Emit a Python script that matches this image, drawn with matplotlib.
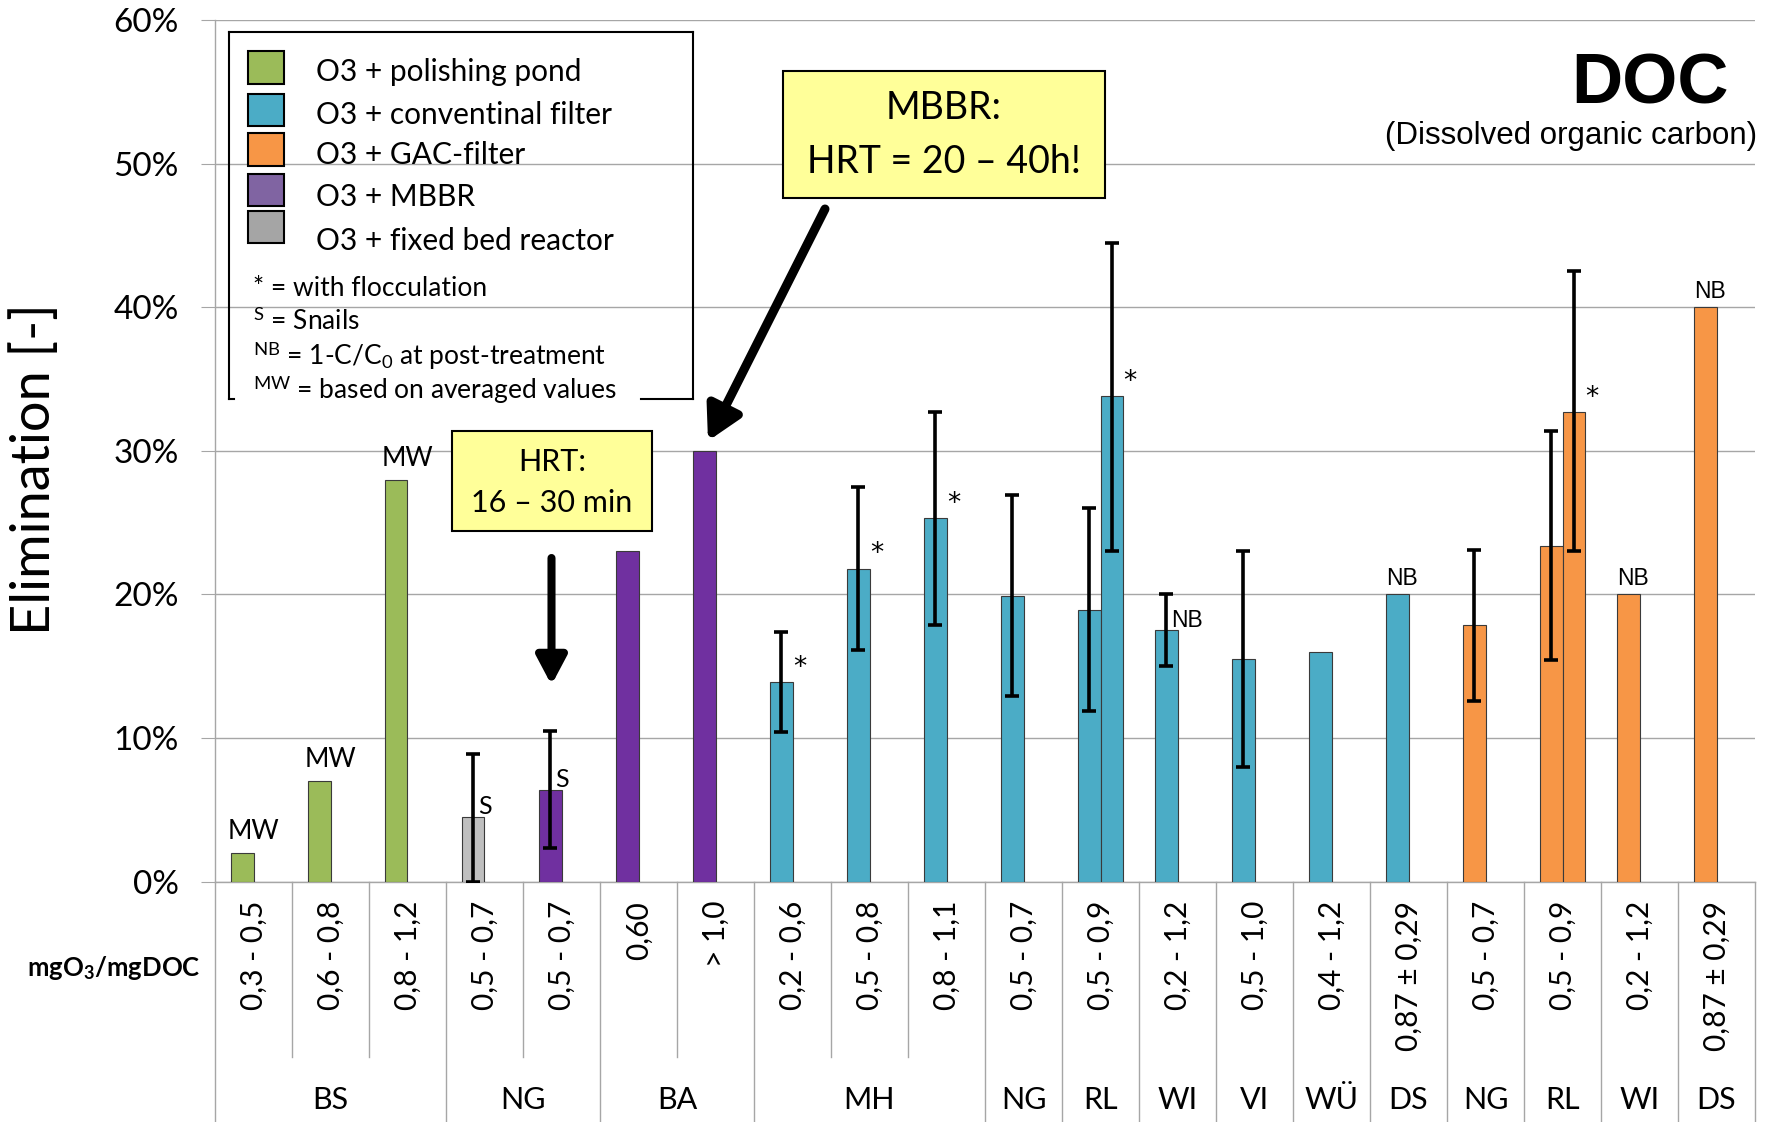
import matplotlib
matplotlib.use('Agg')
import matplotlib.pyplot as plt
import numpy as np
from matplotlib.patches import Rectangle
from matplotlib.lines import Line2D

plt.rcParams['font.family'] = ['Lato', 'DejaVu Sans']
plt.rcParams['mathtext.fontset'] = 'custom'
plt.rcParams['mathtext.rm'] = 'Lato'
plt.rcParams['mathtext.it'] = 'Lato:italic'
plt.rcParams['mathtext.bf'] = 'Lato:bold'

# data (elimination in %)
ratios = ['0,3 - 0,5', '0,6 - 0,8', '0,8 - 1,2', '0,5 - 0,7', '0,5 - 0,7', '0,60', '> 1,0',
          '0,2 - 0,6', '0,5 - 0,8', '0,8 - 1,1', '0,5 - 0,7', '0,5 - 0,9', '0,2 - 1,2',
          '0,5 - 1,0', '0,4 - 1,2', '0,87 ± 0,29', '0,5 - 0,7', '0,5 - 0,9', '0,2 - 1,2',
          '0,87 ± 0,29']
groups = ['BS', 'NG', 'BA', 'MH', 'NG', 'RL', 'WI', 'VI', 'WÜ', 'DS', 'NG', 'RL', 'WI', 'DS']
group_sizes = [3, 2, 2, 3, 1, 1, 1, 1, 1, 1, 1, 1, 1, 1]
process = ['pond', 'pond', 'pond', 'fixed', 'mbbr', 'mbbr', 'mbbr',
           'filter', 'filter', 'filter', 'filter', 'filter', 'filter', 'filter', 'filter', 'filter',
           'gac', 'gac', 'gac', 'gac']
elim = [2.0, 7.0, 28.0, 4.5, 6.4, 23.0, 30.0, 13.9, 21.8, 25.3, 19.9, 18.9, 17.5, 15.5, 16.0,
        20.0, 17.9, 23.4, 20.0, 40.0]
nan = np.nan
err_lo = [nan, nan, nan, 0.0, 2.3, nan, nan, 10.45, 16.1, 17.9, 12.9, 11.9, 15.0, 8.0, nan,
          nan, 12.6, 15.4, nan, nan]
err_hi = [nan, nan, nan, 8.9, 10.5, nan, nan, 17.4, 27.5, 32.7, 26.9, 26.0, 20.0, 23.0, nan,
          nan, 23.1, 31.4, nan, nan]
marks = ['MW', 'MW', 'MW', 'S', 'S', '', '', '*', '*', '*', '', '', 'NB', '', '', 'NB', '', '', 'NB', 'NB']

# second bar (with flocculation) in the RL categories
second_idx = [11, 17]
elim2 = [33.8, 32.7]
err2_lo = [23.0, 23.0]
err2_hi = [44.5, 42.5]
marks2 = ['*', '*']

legend_labels = ['O3 + polishing pond', 'O3 + conventinal filter', 'O3 + GAC-filter',
                 'O3 + MBBR', 'O3 + fixed bed reactor']
legend_keys = ['pond', 'filter', 'gac', 'mbbr', 'fixed']

bar_colors = {'pond': '#9BBB59', 'filter': '#4BACC6', 'gac': '#F79646',
              'mbbr': '#7030A0', 'fixed': '#BFBFBF'}
legend_colors = {'pond': '#9BBB59', 'filter': '#4BACC6', 'gac': '#F79646',
                 'mbbr': '#8064A2', 'fixed': '#A5A5A5'}

W, H = 1772, 1122
fig = plt.figure(figsize=(W / 100, H / 100), dpi=100)


def P(px, py):
    return (px / W, 1 - py / H)


ax = fig.add_axes([215 / W, 1 - 881.5 / H, 1540 / W, 861.2 / H])
x = np.arange(len(ratios))
w = 0.29
elim = np.array(elim)
lo = np.array(err_lo)
hi = np.array(err_hi)

xa = x - w / 2
ax.bar(xa, elim, w, color=[bar_colors[p] for p in process], edgecolor='#3a3a3a',
       linewidth=0.8, zorder=3)
m = ~np.isnan(lo)
ax.errorbar(xa[m], elim[m], yerr=[elim[m] - lo[m], hi[m] - elim[m]], fmt='none',
            ecolor='black', elinewidth=2.6, capsize=5, capthick=2.6, zorder=4)

xb = np.array(second_idx) + w / 2
e2 = np.array(elim2)
ax.bar(xb, e2, w, color=[bar_colors[process[i]] for i in second_idx], edgecolor='#3a3a3a',
       linewidth=0.8, zorder=3)
ax.errorbar(xb, e2, yerr=[e2 - np.array(err2_lo), np.array(err2_hi) - e2], fmt='none',
            ecolor='black', elinewidth=2.6, capsize=5, capthick=2.6, zorder=4)


def put_mark(xc, val, has_err, txt):
    if not txt:
        return
    if txt == '*':
        ax.text(xc + w / 2 + 0.01, val + 0.1, '*', ha='left', va='bottom', fontsize=19,
                family='DejaVu Sans', zorder=6)
    elif has_err:
        ax.text(xc + 0.06, val - 0.1, txt, ha='left', va='bottom', zorder=6,
                fontsize=18 if txt == 'S' else 16.5,
                family='Lato' if txt == 'S' else 'Liberation Sans')
    elif txt == 'MW':
        ax.text(xc + 0.15, val + 0.6, txt, ha='center', va='bottom', fontsize=19, zorder=6)
    else:
        ax.text(xc + 0.06, val + 0.3, txt, ha='center', va='bottom', fontsize=16.5,
                family='Liberation Sans', zorder=6)


for i in range(len(ratios)):
    put_mark(xa[i], elim[i], not np.isnan(lo[i]), marks[i])
for j, i in enumerate(second_idx):
    put_mark(xb[j], elim2[j], True, marks2[j])

ax.set_xlim(-0.5, 19.5)
ax.set_ylim(0, 60)
ax.set_yticks(range(0, 61, 10))
ax.set_yticklabels([f'{v}%' for v in range(0, 61, 10)])
ax.yaxis.grid(True, color='#A6A6A6', linewidth=1.0)
ax.set_axisbelow(True)
for s in ['top', 'right']:
    ax.spines[s].set_visible(False)
for s in ['left', 'bottom']:
    ax.spines[s].set_color('#A6A6A6')
    ax.spines[s].set_linewidth(1.0)
ax.tick_params(axis='y', length=10, color='#A6A6A6', pad=16, labelsize=24)
ax.set_xticks(x)
ax.set_xticklabels(ratios, rotation=90, fontsize=21.5)
ax.tick_params(axis='x', length=0, pad=14)

# category table below the axis
trans = ax.get_xaxis_transform()
bounds = set(np.concatenate([[0], np.cumsum(group_sizes)]))
for i in range(len(ratios) + 1):
    y_end = -0.279 if i in bounds else -0.204
    ax.plot([i - 0.5, i - 0.5], [0, y_end], transform=trans, color='#A6A6A6',
            linewidth=1.0, clip_on=False)
start = 0
for g, n in zip(groups, group_sizes):
    ax.text(start + n / 2 - 0.5, -0.254, g, transform=trans, ha='center', va='center',
            fontsize=22)
    start += n

fig.text(*P(27, 968), r'mgO$_\mathbf{3}$/mgDOC', fontweight='bold', fontsize=18.5,
         ha='left', va='center')
fig.text(*P(34, 469), 'Elimination [-]', rotation=90, ha='center', va='center', fontsize=39)

# title
fig.text(*P(1729, 85), 'DOC', ha='right', va='center', fontsize=51, fontweight='bold',
         family='Liberation Sans')
fig.text(*P(1757, 136), '(Dissolved organic carbon)', ha='right', va='center',
         fontsize=22.5, family='Liberation Sans')

# legend box
lk = dict(color='black', linewidth=1.5, transform=fig.transFigure)
for (a, b) in [((229, 32), (693, 32)), ((229, 32), (229, 399)), ((693, 32), (693, 399)),
               ((229, 399), (234, 399)), ((641, 399), (693, 399))]:
    p1, p2 = P(*a), P(*b)
    fig.add_artist(Line2D([p1[0], p2[0]], [p1[1], p2[1]], **lk))
sw_y = [67.5, 109.7, 149.5, 189.7, 226.7]
tx_y = [81, 124, 164, 206, 250]
for k, lab, sy, ty in zip(legend_keys, legend_labels, sw_y, tx_y):
    fig.add_artist(Rectangle(P(248, sy + 16), 36 / W, 32 / H, transform=fig.transFigure,
                             facecolor=legend_colors[k], edgecolor='black', linewidth=1.5))
    fig.text(*P(316, ty), lab, ha='left', va='baseline', fontsize=21.5)
notes = ['* = with flocculation', r'$^{\mathrm{S}}$ = Snails',
         r'$^{\mathrm{NB}}$ = 1-C/C$_\mathrm{0}$ at post-treatment',
         r'$^{\mathrm{MW}}$ = based on averaged values']
for t, by in zip(notes, [296, 330, 365, 399]):
    fig.text(*P(253, by), t, ha='left', va='baseline', fontsize=19)

# yellow annotation boxes
for (x0, y0, x1, y1) in [(783, 71, 1105, 198), (452, 431, 652, 531)]:
    fig.add_artist(Rectangle(P(x0, y1), (x1 - x0) / W, (y1 - y0) / H,
                             transform=fig.transFigure, facecolor='#FFFF99',
                             edgecolor='black', linewidth=1.5, zorder=5))
fig.text(*P(944, 108), 'MBBR:', ha='center', va='center', fontsize=27, zorder=6)
fig.text(*P(944, 162), 'HRT = 20 – 40h!', ha='center', va='center', fontsize=27, zorder=6)
fig.text(*P(552, 462), 'HRT:', ha='center', va='center', fontsize=22, zorder=6)
fig.text(*P(552, 503), '16 – 30 min', ha='center', va='center', fontsize=22, zorder=6)

# arrows
ax.annotate('', xy=P(708, 441), xytext=P(825, 209), xycoords='figure fraction',
            textcoords='figure fraction',
            arrowprops=dict(arrowstyle='-|>,head_length=1.0,head_width=0.55', color='black',
                            lw=6.5, mutation_scale=20, shrinkA=0, shrinkB=0))
ax.annotate('', xy=P(551.5, 685), xytext=P(551.5, 558), xycoords='figure fraction',
            textcoords='figure fraction',
            arrowprops=dict(arrowstyle='-|>,head_length=0.85,head_width=0.45', color='black',
                            lw=5.8, mutation_scale=20, shrinkA=0, shrinkB=0))

fig.savefig('out.png', dpi=100)
